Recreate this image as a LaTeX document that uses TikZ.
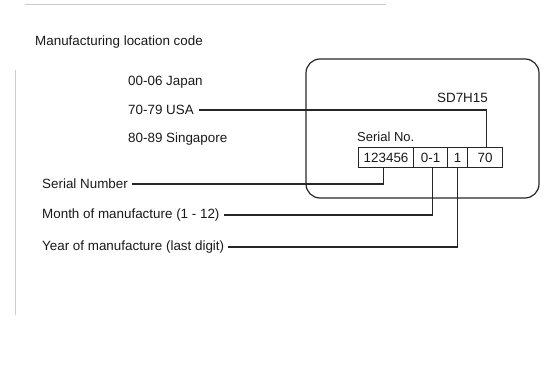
\documentclass[tikz,border=0pt]{standalone}
\usepackage{fontspec}
\setmainfont{Liberation Sans}
\begin{document}
\begin{tikzpicture}[x=1pt,y=-1pt,
  lbl/.style={font=\fontsize{13.4}{15}\selectfont, text=black!90, inner sep=0pt, anchor=west},
  cell/.style={draw=black!85, line width=1.1pt, minimum height=20pt, inner sep=0pt, font=\fontsize{13.4}{15}\selectfont, text=black!90},
  conn/.style={draw=black!85, line width=1.1pt},
  faint/.style={draw=black!20, line width=1pt}]
\useasboundingbox (0,0) rectangle (556,379);
% scan artefacts
\draw[faint] (25,5) -- (386,5);
\draw[faint] (15,70) -- (15,315);
% title
\node[lbl] (title) at (35,42) {Manufacturing location code};
% location codes
\node[lbl] (jp) at (128,82) {00-06 Japan};
\node[lbl] (us) at (128,110) {70-79 USA};
\node[lbl] (sg) at (128,139) {80-89 Singapore};
% left labels
\node[lbl] (sn) at (42,184) {Serial Number};
\node[lbl] (mo) at (42,215) {Month of manufacture (1 - 12)};
\node[lbl] (yr) at (42,247) {Year of manufacture (last digit)};
% label plate
\draw[draw=black!85, line width=1.2pt, rounded corners=14pt] (306,59) rectangle (539,198);
\node[lbl, anchor=east] (model) at (488,98) {SD7H15};
\node[lbl, font=\fontsize{13}{15}\selectfont] (serlbl) at (357,137) {Serial No.};
\node[cell, minimum width=55pt, anchor=north west] (c1) at (358,147) {123456};
\node[cell, minimum width=34pt, anchor=north west] (c2) at (413,147) {0-1};
\node[cell, minimum width=20pt, anchor=north west] (c3) at (447,147) {1};
\node[cell, minimum width=35pt, anchor=north west] (c4) at (467,147) {70};
% connectors
\coordinate (usend) at ([xshift=5pt]us.east);
\draw[conn] (usend) -| ([xshift=1pt]c4.north);
\draw[conn] ([xshift=-3pt]c1.south) |- ([xshift=4pt]sn.east);
\draw[conn] ([xshift=2pt]c2.south) |- ([xshift=4pt]mo.east);
\draw[conn] (c3.south) |- ([xshift=4pt]yr.east);
\end{tikzpicture}
\end{document}
